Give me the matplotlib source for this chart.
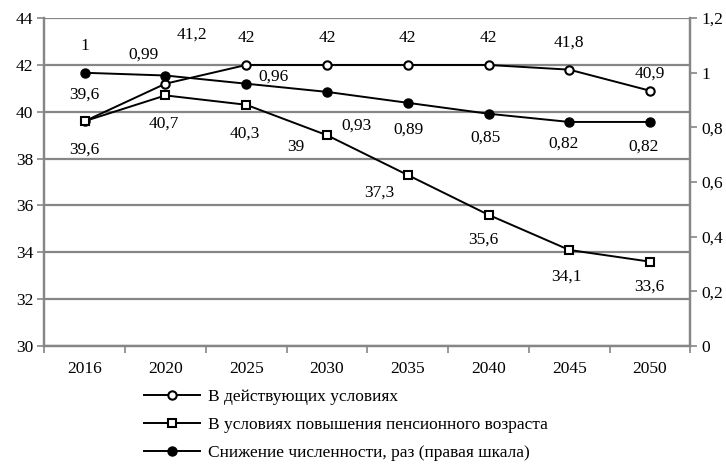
import numpy as np
import matplotlib.pyplot as plt
from matplotlib.ticker import FuncFormatter

plt.rcParams['font.family'] = ['Liberation Serif', 'DejaVu Serif']

# data
years = ['2016', '2020', '2025', '2030', '2035', '2040', '2045', '2050']
current = [39.6, 41.2, 42, 42, 42, 42, 41.8, 40.9]
raised_age = [39.6, 40.7, 40.3, 39, 37.3, 35.6, 34.1, 33.6]
decline = [1, 0.99, 0.96, 0.93, 0.89, 0.85, 0.82, 0.82]

labels = ['В действующих условиях',
          'В условиях повышения пенсионного возраста',
          'Снижение численности, раз (правая шкала)']

# label offsets in pixels (dx, dy), dy positive = up
off_current = [(0, 27), (27, 49), (0, 27), (0, 27), (0, 27), (0, 27), (0, 27), (0, 17)]
off_raised = [(0, -28), (-2, -28), (-1, -29), (-31, -12), (-28, -18), (-5, -25), (-3, -27), (-1, -25)]
off_decline = [(0, 27), (-22, 21), (27, 7), (30, -34), (1, -27), (-3, -24), (-6, -22), (-6, -25)]

FS = 12.5
GRID = '#868686'

def fmt(v):
    return ('%g' % v).replace('.', ',')

fig = plt.figure(figsize=(7.26, 4.65), dpi=100)
ax = fig.add_axes([0.061, 0.256, 0.890, 0.705])
ax2 = ax.twinx()

x = np.arange(len(years))

ax.plot(x, current, color='black', lw=1.4, marker='o', ms=6, mfc='white',
        mec='black', mew=1.5, label=labels[0], zorder=4)
ax.plot(x, raised_age, color='black', lw=1.4, marker='s', ms=6, mfc='white',
        mec='black', mew=1.5, label=labels[1], zorder=4)
ax2.plot(x, decline, color='black', lw=1.4, marker='o', ms=6.5, mfc='black',
         mec='black', label=labels[2], zorder=4)

for xi, v, (dx, dy) in zip(x, current, off_current):
    ax.annotate(fmt(v), (xi, v), xytext=(dx, dy), textcoords='offset pixels',
                ha='center', va='center', fontsize=FS)
for xi, v, (dx, dy) in zip(x, raised_age, off_raised):
    ax.annotate(fmt(v), (xi, v), xytext=(dx, dy), textcoords='offset pixels',
                ha='center', va='center', fontsize=FS)
for xi, v, (dx, dy) in zip(x, decline, off_decline):
    ax2.annotate(fmt(v), (xi, v), xytext=(dx, dy), textcoords='offset pixels',
                 ha='center', va='center', fontsize=FS)

# left axis
ax.set_xlim(-0.5, len(years) - 0.5)
ax.set_ylim(30, 44)
ax.set_yticks(np.arange(30, 45, 2))
ax.yaxis.grid(True, color=GRID, lw=1.6)
ax.set_axisbelow(True)
ax.tick_params(axis='y', length=5, width=1.2, color=GRID, labelsize=FS, pad=3)

ax.set_xticks(x)
ax.set_xticklabels(years)
ax.set_xticks(np.arange(-0.5, len(years), 1), minor=True)
ax.tick_params(axis='x', which='major', length=0, labelsize=FS, pad=11)
ax.tick_params(axis='x', which='minor', length=5, width=1.2, color=GRID)

# right axis
ax2.set_ylim(0, 1.2)
ax2.set_yticks(np.arange(0, 1.21, 0.2))
ax2.yaxis.set_major_formatter(FuncFormatter(lambda v, p: fmt(round(v, 1))))
ax2.tick_params(axis='y', length=5, width=1.2, color=GRID, labelsize=FS, pad=3)

for a in (ax, ax2):
    a.spines['top'].set_visible(False)
    for s in ('left', 'right', 'bottom'):
        a.spines[s].set_color(GRID)
        a.spines[s].set_linewidth(1.6)

h1, l1 = ax.get_legend_handles_labels()
h2, l2 = ax2.get_legend_handles_labels()
fig.legend(h1 + h2, l1 + l2, loc='upper left', bbox_to_anchor=(0.199, 0.163),
           frameon=False, fontsize=FS, handlelength=3.2, handletextpad=0.45,
           labelspacing=0.68, borderpad=0, borderaxespad=0)

fig.savefig('out.png', dpi=100)
